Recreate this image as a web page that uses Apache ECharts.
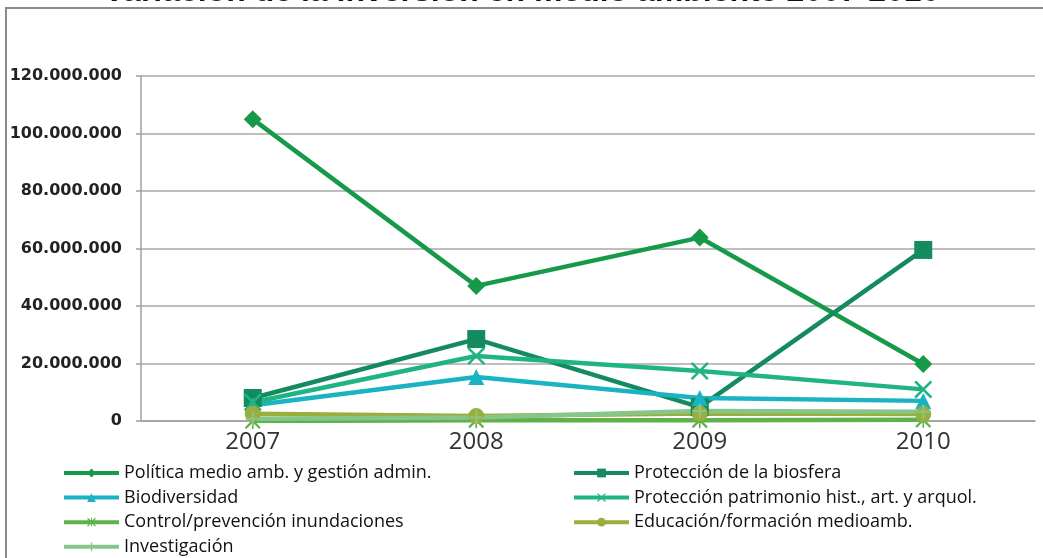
<!DOCTYPE html>
<html><head><meta charset="utf-8">
<script src="https://cdn.jsdelivr.net/npm/echarts@6/dist/echarts.min.js"></script>
<style>html,body{margin:0;padding:0;background:#fff}#c{width:1043px;height:558px}</style>
</head><body><div id="c"></div>
<script>
var categories = ['2007', '2008', '2009', '2010'];
var yTicks = [0, 20000000, 40000000, 60000000, 80000000, 100000000, 120000000];
var seriesNames = [
  'Política medio amb. y gestión admin.',
  'Protección de la biosfera',
  'Biodiversidad',
  'Protección patrimonio hist., art. y arquol.',
  'Control/prevención inundaciones',
  'Educación/formación medioamb.',
  'Investigación'
];
var politica = [105000000, 47000000, 63800000, 19800000];
var biosfera = [8000000, 28500000, 4800000, 59500000];
var biodiversidad = [5500000, 15300000, 8000000, 7000000];
var patrimonio = [6500000, 22600000, 17400000, 11000000];
var control = [0, 300000, 300000, 400000];
var educacion = [2500000, 1700000, 2600000, 2400000];
var investigacion = [800000, 1200000, 3500000, 3200000];

var colors = ['#17994a', '#148a5f', '#1ab3c2', '#20b383', '#5fb149', '#9aae3c', '#86c68c'];
var xPath = 'path://M0,2 L2,0 L10,8 L18,0 L20,2 L12,10 L20,18 L18,20 L10,12 L2,20 L0,18 L8,10 Z';
var starPath = 'path://M0,2 L2,0 L10,8 L18,0 L20,2 L12,10 L20,18 L18,20 L10,12 L2,20 L0,18 L8,10 Z M9,0 L11,0 L11,20 L9,20 Z';
var plusPath = 'path://M8.5,0 L11.5,0 L11.5,8.5 L20,8.5 L20,11.5 L11.5,11.5 L11.5,20 L8.5,20 L8.5,11.5 L0,11.5 L0,8.5 L8.5,8.5 Z';
var symbols = ['diamond', 'rect', 'triangle', xPath, starPath, 'circle', plusPath];
var sizes = [18, 18, 16, 18, 16, 16, 14];
var data = [politica, biosfera, biodiversidad, patrimonio, control, educacion, investigacion];

function fmt(v) { return String(v).replace(/\B(?=(\d{3})+(?!\d))/g, '.'); }

var series = seriesNames.map(function (n, i) {
  return {
    name: n, type: 'line', data: data[i], symbol: symbols[i], symbolSize: sizes[i],
    lineStyle: { color: colors[i], width: 4.5 },
    itemStyle: { color: colors[i] },
    emphasis: { disabled: true }, animation: false
  };
});

var legendText = { fontFamily: 'Open Sans', fontSize: 18, color: '#111', lineHeight: 18 };
var legendCommon = {
  orient: 'vertical', top: 464, height: 130, padding: 0, itemWidth: 55, itemHeight: 11, itemGap: 6.6,
  textStyle: legendText, selectedMode: false, lineStyle: { width: 4 }
};
var chart = echarts.init(document.getElementById('c'));
chart.setOption({
  animation: false,
  title: {
    text: 'Variación de la inversión en medio ambiente 2007-2010',
    left: 'center', top: -29,
    textStyle: { fontFamily: 'Liberation Sans', fontWeight: 'bold', fontSize: 32, color: '#111' }
  },
  graphic: [{
    type: 'rect', shape: { x: 6, y: 8, width: 1100, height: 600 },
    style: { fill: 'none', stroke: '#8a8a8a', lineWidth: 2 }, silent: true, z: -1
  }],
  grid: { left: 141, right: 8, top: 76, bottom: 137, containLabel: false },
  legend: [
    Object.assign({}, legendCommon, { left: 62, data: [seriesNames[0], seriesNames[2], seriesNames[4], seriesNames[6]] }),
    Object.assign({}, legendCommon, { left: 572, data: [seriesNames[1], seriesNames[3], seriesNames[5]] })
  ],
  xAxis: {
    type: 'category', data: categories, boundaryGap: true,
    axisLine: { show: true, lineStyle: { color: '#a0a0a0', width: 1.5 } },
    axisTick: { show: false },
    axisLabel: { fontFamily: 'Open Sans', fontSize: 24, color: '#333', margin: 9 }
  },
  yAxis: {
    type: 'value', min: yTicks[0], max: yTicks[yTicks.length - 1], interval: yTicks[1] - yTicks[0],
    axisLine: { show: true, lineStyle: { color: '#a0a0a0', width: 1.5 } },
    axisTick: { show: true, length: 5, lineStyle: { color: '#a0a0a0', width: 1.5 } },
    splitLine: { show: true, lineStyle: { color: '#a8a8a8', width: 1.5 } },
    axisLabel: { fontFamily: 'DejaVu Sans', fontWeight: 'bold', fontSize: 16, color: '#222', margin: 19, formatter: fmt }
  },
  series: series
});
</script></body></html>
